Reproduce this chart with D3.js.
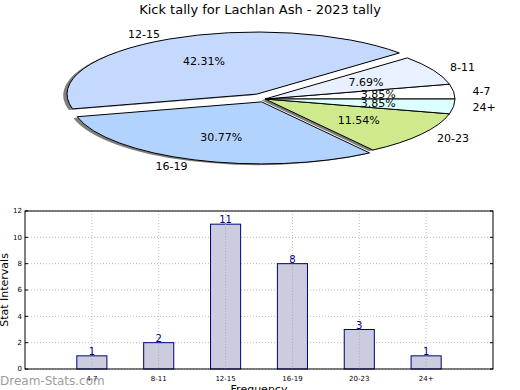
<!DOCTYPE html>
<html><head><meta charset="utf-8">
<script src="https://cdn.jsdelivr.net/npm/d3@7"></script>
<style>body{margin:0;background:#fff}svg{display:block;font-family:"DejaVu Sans",sans-serif}</style>
</head><body>
<svg id="c" width="520" height="390"></svg>
<script>
const title = "Kick tally for Lachlan Ash - 2023 tally";
const categories = ["4-7","8-11","12-15","16-19","20-23","24+"];
const values = [1,2,11,8,3,1];
const pieColors = ["#ffffff","#e9f0ff","#c5d9ff","#b3d3ff","#cfea8c","#dcffff"];
const explode = [0,0,0.09,0.05,0,0];
const yTicks = [0,2,4,6,8,10,12];

const svg = d3.select("#c");
svg.append("text").attr("x",260).attr("y",14).attr("text-anchor","middle")
  .attr("font-size",13).text(title);

// ---- Pie ----
const cx = 265, cy = 99, rx = 190, ry = 62;
const total = d3.sum(values);
const pie = d3.pie().sort(null).startAngle(Math.PI/2).endAngle(Math.PI/2 - 2*Math.PI);
const arcs = pie(values);
const arc = d3.arc().innerRadius(0).outerRadius(1);
const pg = svg.append("g").attr("transform",`translate(${cx},${cy}) scale(${rx},${ry})`);
function off(d,i){const m=(d.startAngle+d.endAngle)/2;return [Math.sin(m)*explode[i], -Math.cos(m)*explode[i]];}
// shadows
arcs.forEach((d,i)=>{const o=off(d,i);
  pg.append("path").attr("d",arc(d)).attr("transform",`translate(${o[0]-0.02},${o[1]+0.02})`)
    .attr("fill","#000").attr("fill-opacity",0.5);});
arcs.forEach((d,i)=>{const o=off(d,i);
  pg.append("path").attr("d",arc(d)).attr("transform",`translate(${o[0]},${o[1]})`)
    .attr("fill",pieColors[i]).attr("stroke","#000").attr("stroke-width",1)
    .attr("vector-effect","non-scaling-stroke");});
arcs.forEach((d,i)=>{
  const m=(d.startAngle+d.endAngle)/2, s=Math.sin(m), c=-Math.cos(m), e=explode[i];
  const lx = cx + rx*(1.1+e)*s, ly = cy + ry*(1.1+e)*c;
  svg.append("text").attr("x",lx).attr("y",ly).attr("dy","0.35em")
    .attr("text-anchor", s<0?"end":"start").attr("font-size",11).text(categories[i]);
  const px = cx + rx*(0.6+e)*s, py = cy + ry*(0.6+e)*c;
  svg.append("text").attr("x",px).attr("y",py).attr("dy","0.35em")
    .attr("text-anchor","middle").attr("font-size",11)
    .text((values[i]/total*100).toFixed(2)+"%");
});

// ---- Bar ----
const L=25,R=493,T=211,B=369;
const x = d3.scaleLinear().domain([0,categories.length+1]).range([L,R]);
const y = d3.scaleLinear().domain([0,12]).range([B,T]);
const bg = svg.append("g");
// grid
yTicks.forEach(t=>bg.append("line").attr("x1",L).attr("x2",R).attr("y1",y(t)).attr("y2",y(t))
  .attr("stroke","#bbb").attr("stroke-dasharray","1,2"));
categories.forEach((c,i)=>bg.append("line").attr("x1",x(i+1)).attr("x2",x(i+1)).attr("y1",T).attr("y2",B)
  .attr("stroke","#bbb").attr("stroke-dasharray","1,2"));
const bw = x(0.45)-x(0);
categories.forEach((c,i)=>{
  bg.append("rect").attr("x",x(i+1)-bw/2).attr("y",y(values[i])).attr("width",bw)
    .attr("height",y(0)-y(values[i])).attr("fill","#ccccdf").attr("stroke","#000080");
  bg.append("line").attr("x1",x(i+1)).attr("x2",x(i+1)).attr("y1",y(values[i])).attr("y2",B)
    .attr("stroke","#aaa").attr("stroke-dasharray","1,2");
  bg.append("text").attr("x",x(i+1)).attr("y",y(values[i])-1).attr("text-anchor","middle")
    .attr("font-size",10).attr("fill","#000080").text(values[i]);
});
bg.append("rect").attr("x",L).attr("y",T).attr("width",R-L).attr("height",B-T)
  .attr("fill","none").attr("stroke","#000");
yTicks.forEach(t=>{
  bg.append("text").attr("x",L-3).attr("y",y(t)).attr("dy","0.35em").attr("text-anchor","end")
    .attr("font-size",7).text(t);
  bg.append("line").attr("x1",L).attr("x2",L+3).attr("y1",y(t)).attr("y2",y(t)).attr("stroke","#000");
  bg.append("line").attr("x1",R-3).attr("x2",R).attr("y1",y(t)).attr("y2",y(t)).attr("stroke","#000");
});
categories.forEach((c,i)=>bg.append("text").attr("x",x(i+1)).attr("y",381).attr("text-anchor","middle")
  .attr("font-size",7).text(c));
bg.append("text").attr("transform",`translate(8,${(T+B)/2}) rotate(-90)`).attr("text-anchor","middle")
  .attr("font-size",11).text("Stat Intervals");
bg.append("text").attr("x",(L+R)/2).attr("y",393).attr("text-anchor","middle").attr("font-size",11).text("Frequency");
svg.append("text").attr("x",0).attr("y",385).attr("font-size",12).attr("fill","#888")
  .attr("fill-opacity",0.85).text("Dream-Stats.com");
</script>
</body></html>
